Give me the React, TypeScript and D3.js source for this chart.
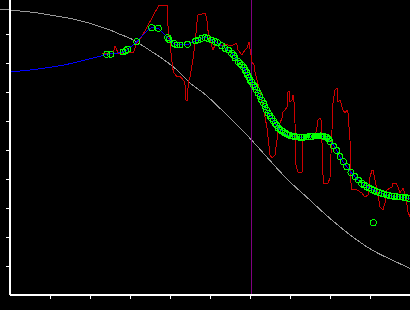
import React, { useEffect, useRef } from "react";
import * as d3 from "d3";

const W = 410;
const H = 310;

// Reference curve (gray)
const refX = [-0.25, 0, 0.25, 0.5, 0.75, 1.0, 1.25, 1.5, 1.75, 2.0, 2.25, 2.5, 2.75, 3.0, 3.25, 3.5, 3.75, 4.125, 4.5, 4.875, 5.25, 5.625, 6.0, 6.375, 6.95, 7.45, 7.95, 8.45, 9.05, 9.55, 10.0];
const refY = [9.852, 9.828, 9.793, 9.759, 9.714, 9.655, 9.597, 9.541, 9.459, 9.369, 9.252, 9.138, 8.99, 8.852, 8.655, 8.431, 8.207, 7.817, 7.31, 6.921, 6.438, 5.931, 5.403, 4.828, 3.966, 3.334, 2.7, 2.128, 1.552, 1.207, 0.921];

// Raw signal (red)
const rawX = [2.293, 2.575, 2.625, 2.708, 3.083, 3.168, 3.293, 3.725, 3.933, 3.943, 3.958, 4.0, 4.043, 4.083, 4.168, 4.25, 4.293, 4.358, 4.375, 4.4, 4.433, 4.458, 4.5, 4.543, 4.583, 4.625, 4.693, 4.875, 4.918, 4.958, 5.0, 5.075, 5.125, 5.25, 5.4, 5.5, 5.575, 5.668, 5.7, 5.8, 5.875, 5.925, 5.975, 6.025, 6.05, 6.1, 6.125, 6.175, 6.25, 6.3, 6.375, 6.425, 6.45, 6.5, 6.55, 6.575, 6.625, 6.675, 6.7, 6.75, 6.8, 6.825, 6.875, 6.925, 6.95, 6.975, 7.0, 7.05, 7.075, 7.1, 7.125, 7.15, 7.2, 7.25, 7.3, 7.313, 7.325, 7.35, 7.45, 7.55, 7.625, 7.675, 7.7, 7.75, 7.775, 7.8, 7.825, 7.838, 7.875, 7.95, 8.0, 8.05, 8.075, 8.125, 8.175, 8.2, 8.25, 8.325, 8.375, 8.425, 8.45, 8.5, 8.525, 8.55, 8.675, 8.8, 8.875, 8.95, 9.0, 9.05, 9.075, 9.125, 9.175, 9.25, 9.325, 9.375, 9.425, 9.55, 9.575, 9.65, 9.7, 9.75, 9.825, 9.9, 9.95, 10.0];
const rawY = [8.334, 8.334, 8.586, 8.334, 8.355, 8.679, 8.907, 10.0, 10.0, 9.483, 9.034, 8.69, 8.103, 7.7, 7.528, 7.528, 7.483, 7.355, 7.241, 6.724, 6.724, 7.31, 7.528, 7.872, 8.217, 8.679, 9.655, 9.714, 9.541, 9.024, 8.793, 8.448, 8.621, 8.586, 8.655, 8.586, 8.621, 8.679, 8.448, 8.276, 8.448, 8.517, 8.724, 8.276, 8.034, 7.931, 7.69, 7.414, 7.0, 6.621, 6.138, 5.759, 5.448, 4.828, 4.724, 4.759, 4.828, 5.345, 5.759, 5.931, 6.103, 6.31, 6.379, 6.483, 7.0, 7.034, 6.655, 6.724, 6.897, 6.655, 5.931, 4.483, 4.241, 4.207, 4.241, 4.655, 5.345, 5.448, 5.448, 5.483, 5.448, 5.793, 6.034, 6.103, 6.034, 5.241, 4.138, 3.862, 3.862, 3.862, 4.034, 5.69, 6.621, 7.069, 7.138, 6.655, 6.724, 6.379, 6.276, 6.379, 6.276, 5.345, 3.862, 3.621, 3.621, 3.517, 3.379, 3.448, 4.069, 4.31, 4.31, 3.966, 3.621, 3.034, 2.931, 3.172, 3.621, 3.724, 3.862, 3.862, 3.724, 3.517, 3.69, 3.379, 2.862, 2.69];

// Smoothed fit (blue)
const fitX = [0, 0.25, 0.5, 0.75, 1.0, 1.25, 1.5, 1.75, 2.0, 2.25, 2.425, 2.5, 2.7, 2.825, 2.9, 2.95, 3.075, 3.175, 3.3, 3.425, 3.55, 3.7, 3.825, 3.95, 4.075, 4.2, 4.325, 4.45, 4.575, 4.7, 4.825, 4.95, 5.075, 5.2, 5.325, 5.45, 5.55, 5.65, 5.75, 5.85, 5.95, 6.05, 6.125, 6.2, 6.3, 6.375, 6.45, 6.55, 6.625, 6.725, 6.825, 6.95, 7.125, 7.3, 7.45, 7.625, 7.8, 7.925, 8.0, 8.1, 8.175, 8.25, 8.325, 8.425, 8.525, 8.625, 8.7, 8.8, 8.925, 9.05, 9.175, 9.3, 9.425, 9.55, 9.675, 9.825, 10.0];
const fitY = [7.69, 7.724, 7.759, 7.803, 7.852, 7.907, 7.976, 8.059, 8.148, 8.231, 8.3, 8.31, 8.345, 8.379, 8.431, 8.483, 8.621, 8.734, 8.931, 9.103, 9.217, 9.197, 9.034, 8.862, 8.69, 8.621, 8.621, 8.645, 8.724, 8.793, 8.872, 8.862, 8.759, 8.69, 8.569, 8.448, 8.328, 8.155, 8.0, 7.81, 7.586, 7.345, 7.172, 6.966, 6.724, 6.483, 6.276, 6.086, 5.931, 5.741, 5.621, 5.517, 5.459, 5.438, 5.459, 5.483, 5.483, 5.431, 5.31, 5.138, 4.966, 4.769, 4.597, 4.424, 4.224, 4.079, 3.966, 3.852, 3.734, 3.645, 3.562, 3.507, 3.448, 3.414, 3.39, 3.369, 3.328];

// Sampled points (green circles)
const ptX = [2.418, 2.518, 2.825, 2.893, 2.943, 3.168, 3.543, 3.708, 3.943, 3.975, 4.108, 4.175, 4.25, 4.438, 4.643, 4.7, 4.793, 4.875, 4.943, 5.043, 5.125, 5.183, 5.293, 5.375, 5.458, 5.543, 5.588, 5.625, 5.708, 5.75, 5.793, 5.838, 5.875, 5.913, 5.943, 5.975, 6.0, 6.043, 6.083, 6.125, 6.163, 6.208, 6.25, 6.293, 6.338, 6.375, 6.413, 6.458, 6.5, 6.543, 6.588, 6.625, 6.663, 6.708, 6.75, 6.788, 6.833, 6.875, 6.913, 6.958, 7.0, 7.05, 7.088, 7.125, 7.175, 7.225, 7.293, 7.35, 7.4, 7.458, 7.513, 7.563, 7.625, 7.675, 7.725, 7.763, 7.793, 7.825, 7.863, 7.918, 7.958, 8.0, 8.083, 8.168, 8.25, 8.333, 8.418, 8.525, 8.625, 8.708, 8.793, 8.85, 8.918, 8.975, 9.043, 9.1, 9.168, 9.225, 9.293, 9.35, 9.418, 9.475, 9.543, 9.6, 9.668, 9.75, 9.833, 9.9, 9.958, 9.083];
const ptY = [8.3, 8.3, 8.379, 8.424, 8.472, 8.734, 9.217, 9.197, 8.872, 8.817, 8.672, 8.621, 8.621, 8.645, 8.759, 8.793, 8.852, 8.872, 8.852, 8.793, 8.734, 8.7, 8.597, 8.507, 8.448, 8.334, 8.259, 8.172, 8.045, 7.983, 7.931, 7.845, 7.759, 7.672, 7.586, 7.5, 7.414, 7.345, 7.241, 7.172, 7.069, 6.955, 6.845, 6.724, 6.603, 6.493, 6.379, 6.266, 6.172, 6.093, 6.0, 5.921, 5.845, 5.748, 5.707, 5.662, 5.631, 5.586, 5.552, 5.517, 5.5, 5.483, 5.469, 5.459, 5.448, 5.441, 5.438, 5.441, 5.448, 5.459, 5.466, 5.472, 5.483, 5.483, 5.483, 5.483, 5.483, 5.476, 5.462, 5.431, 5.379, 5.286, 5.138, 4.983, 4.769, 4.597, 4.424, 4.224, 4.079, 3.966, 3.852, 3.793, 3.734, 3.69, 3.645, 3.603, 3.562, 3.534, 3.507, 3.483, 3.448, 3.431, 3.414, 3.4, 3.39, 3.379, 3.369, 3.352, 3.334, 2.493];

const markerX = 6.03;
const tickVals = [1, 2, 3, 4, 5, 6, 7, 8, 9];

export default function App() {
  const ref = useRef<SVGSVGElement>(null);

  useEffect(() => {
    const svg = d3.select(ref.current);
    svg.selectAll("*").remove();

    const x = d3.scaleLinear().domain([0, 10]).range([10, 410]);
    const y = d3.scaleLinear().domain([0, 10]).range([295, 5]);

    svg.append("rect").attr("width", W).attr("height", H).attr("fill", "#000");

    const line = d3
      .line<[number, number]>()
      .x((d) => x(d[0]))
      .y((d) => y(d[1]));

    const zip = (a: number[], b: number[]) => a.map((v, i) => [v, b[i]] as [number, number]);

    // gray reference curve
    svg
      .append("path")
      .attr("d", d3.line<[number, number]>().x((d) => x(d[0])).y((d) => y(d[1])).curve(d3.curveMonotoneX)(zip(refX, refY)))
      .attr("fill", "none")
      .attr("stroke", "#999999")
      .attr("stroke-width", 1);

    // purple vertical marker
    svg
      .append("line")
      .attr("x1", Math.round(x(markerX)) + 0.5)
      .attr("x2", Math.round(x(markerX)) + 0.5)
      .attr("y1", 0)
      .attr("y2", y(0))
      .attr("stroke", "#800080")
      .attr("stroke-width", 1);

    // red raw signal
    svg
      .append("path")
      .attr("d", line(zip(rawX, rawY)))
      .attr("fill", "none")
      .attr("stroke", "#cc0000")
      .attr("stroke-width", 1);

    // blue fit
    svg
      .append("path")
      .attr("d", line.curve(d3.curveMonotoneX)(zip(fitX, fitY)))
      .attr("fill", "none")
      .attr("stroke", "#0000ff")
      .attr("stroke-width", 1);

    // green circles
    svg
      .append("g")
      .selectAll("circle")
      .data(zip(ptX, ptY))
      .join("circle")
      .attr("cx", (d) => x(d[0]))
      .attr("cy", (d) => y(d[1]))
      .attr("r", 3)
      .attr("fill", "none")
      .attr("stroke", "#00ff00")
      .attr("stroke-width", 1);

    // axes
    const xAxis = d3.axisBottom(x).tickValues(tickVals).tickSize(4).tickSizeOuter(0).tickFormat(() => "");
    const yAxis = d3.axisLeft(y).tickValues(tickVals).tickSize(4).tickSizeOuter(0).tickFormat(() => "");

    const gx = svg.append("g").attr("transform", `translate(0,${y(0)})`).call(xAxis);
    const gy = svg.append("g").attr("transform", `translate(${x(0)},0)`).call(yAxis);
    [gx, gy].forEach((g) => {
      g.select(".domain").remove();
      g.selectAll("line").attr("stroke", "#fff").attr("stroke-width", 1.5);
    });
    svg.append("line").attr("x1", x(0)).attr("x2", x(0)).attr("y1", 0).attr("y2", y(0)).attr("stroke", "#fff").attr("stroke-width", 1.5);
    svg.append("line").attr("x1", x(0)).attr("x2", W).attr("y1", y(0)).attr("y2", y(0)).attr("stroke", "#fff").attr("stroke-width", 1.5);
  }, []);

  return (
    <svg
      ref={ref}
      width={W}
      height={H}
      shapeRendering="crispEdges"
      style={{ position: "absolute", left: 0, top: 0, display: "block" }}
    />
  );
}
